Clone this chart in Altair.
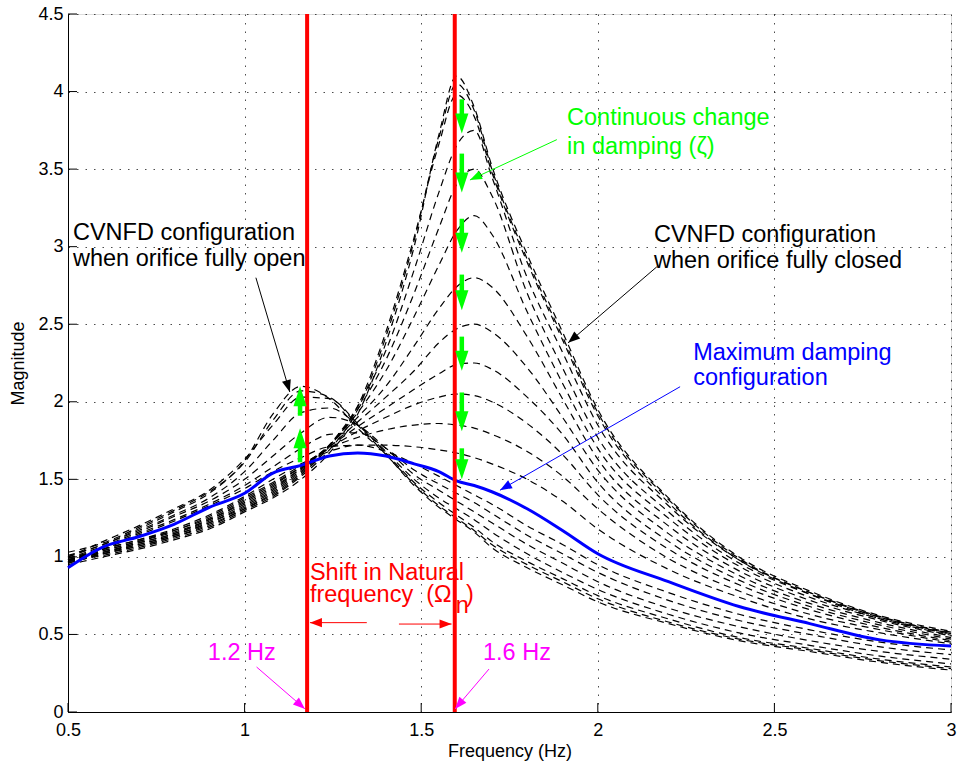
import math
import altair as alt
import pandas as pd

# ---------------- data ----------------
X = [0.5, 0.6, 0.7, 0.8, 0.9, 1.0, 1.08, 1.16, 1.24, 1.32, 1.4, 1.48,
     1.55, 1.6, 1.65, 1.7, 1.8, 1.9, 2.0, 2.2, 2.4, 2.6, 2.8, 3.0]

# orifice fully closed bundle
C_a = [0.95, 1.0, 1.05, 1.11, 1.18, 1.29, 1.38, 1.50, 1.67, 1.92, 2.38, 3.0, 3.72, 4.1, 3.9, 3.52, 2.95, 2.45, 1.95, 1.38, 1.0, 0.78, 0.62, 0.52]
C_b = [0.97, 1.01, 1.06, 1.12, 1.19, 1.30, 1.39, 1.52, 1.69, 1.95, 2.42, 3.04, 3.7, 4.05, 3.88, 3.5, 2.92, 2.42, 1.93, 1.37, 0.99, 0.77, 0.61, 0.515]
C_c = [0.96, 1.02, 1.07, 1.13, 1.2, 1.31, 1.40, 1.53, 1.71, 1.97, 2.45, 3.06, 3.66, 3.98, 3.84, 3.48, 2.9, 2.4, 1.91, 1.35, 0.98, 0.76, 0.6, 0.51]
# intermediate (closing side)
I1 = [0.97, 1.02, 1.07, 1.13, 1.21, 1.31, 1.41, 1.54, 1.72, 1.97, 2.33, 2.85, 3.35, 3.65, 3.75, 3.45, 2.8, 2.32, 1.85, 1.33, 0.98, 0.77, 0.615, 0.505]
I2 = [0.96, 1.02, 1.08, 1.14, 1.22, 1.32, 1.42, 1.55, 1.72, 1.95, 2.27, 2.7, 3.12, 3.4, 3.5, 3.33, 2.7, 2.22, 1.77, 1.29, 0.96, 0.76, 0.61, 0.5]
I3 = [0.97, 1.03, 1.08, 1.14, 1.22, 1.33, 1.43, 1.56, 1.72, 1.93, 2.2, 2.55, 2.88, 3.1, 3.2, 3.08, 2.58, 2.12, 1.7, 1.25, 0.94, 0.74, 0.6, 0.495]
I4 = [0.97, 1.03, 1.09, 1.15, 1.23, 1.34, 1.44, 1.57, 1.72, 1.9, 2.1, 2.36, 2.6, 2.74, 2.8, 2.74, 2.42, 2.02, 1.63, 1.2, 0.91, 0.72, 0.59, 0.49]
I5 = [0.98, 1.03, 1.09, 1.15, 1.24, 1.35, 1.45, 1.57, 1.71, 1.87, 2.03, 2.2, 2.38, 2.47, 2.5, 2.45, 2.22, 1.9, 1.56, 1.15, 0.88, 0.7, 0.575, 0.48]
I6 = [0.98, 1.04, 1.1, 1.16, 1.24, 1.36, 1.46, 1.58, 1.71, 1.84, 1.96, 2.08, 2.18, 2.24, 2.25, 2.21, 2.03, 1.79, 1.48, 1.1, 0.85, 0.68, 0.56, 0.47]
I7 = [0.98, 1.04, 1.1, 1.17, 1.25, 1.37, 1.47, 1.58, 1.7, 1.81, 1.9, 1.98, 2.03, 2.05, 2.04, 2.0, 1.86, 1.66, 1.4, 1.05, 0.82, 0.66, 0.545, 0.46]
I8 = [0.98, 1.05, 1.11, 1.17, 1.26, 1.38, 1.48, 1.59, 1.7, 1.77, 1.82, 1.85, 1.86, 1.85, 1.83, 1.79, 1.68, 1.52, 1.31, 0.99, 0.78, 0.63, 0.53, 0.45]
I9 = [0.99, 1.05, 1.11, 1.18, 1.27, 1.39, 1.5, 1.6, 1.68, 1.72, 1.72, 1.71, 1.69, 1.67, 1.64, 1.6, 1.5, 1.36, 1.18, 0.92, 0.74, 0.6, 0.51, 0.44]
# orifice fully open bundle
O_a = [1.01, 1.08, 1.18, 1.29, 1.41, 1.62, 1.92, 2.1, 2.02, 1.83, 1.66, 1.46, 1.32, 1.24, 1.16, 1.06, 0.93, 0.82, 0.71, 0.57, 0.46, 0.39, 0.32, 0.27]
O_b = [1.03, 1.09, 1.19, 1.3, 1.42, 1.61, 1.88, 2.07, 2.03, 1.85, 1.66, 1.47, 1.33, 1.25, 1.17, 1.08, 0.95, 0.84, 0.73, 0.58, 0.47, 0.4, 0.33, 0.28]
O_c = [1.0, 1.1, 1.2, 1.31, 1.43, 1.63, 1.85, 2.03, 2.02, 1.86, 1.67, 1.48, 1.35, 1.27, 1.19, 1.1, 0.97, 0.86, 0.75, 0.6, 0.48, 0.41, 0.34, 0.29]
# intermediate (opening side)
O1 = [1.0, 1.08, 1.17, 1.27, 1.38, 1.55, 1.75, 1.93, 1.96, 1.85, 1.68, 1.5, 1.38, 1.31, 1.24, 1.16, 1.02, 0.9, 0.79, 0.63, 0.51, 0.43, 0.36, 0.31]
O2 = [0.99, 1.07, 1.16, 1.26, 1.36, 1.5, 1.65, 1.8, 1.9, 1.85, 1.7, 1.53, 1.43, 1.36, 1.29, 1.22, 1.08, 0.96, 0.84, 0.67, 0.55, 0.46, 0.39, 0.34]
O3 = [0.98, 1.06, 1.15, 1.24, 1.34, 1.46, 1.58, 1.7, 1.79, 1.8, 1.7, 1.56, 1.47, 1.41, 1.35, 1.28, 1.14, 1.02, 0.9, 0.72, 0.59, 0.5, 0.42, 0.37]
O4 = [0.97, 1.05, 1.14, 1.23, 1.33, 1.44, 1.55, 1.64, 1.71, 1.72, 1.68, 1.6, 1.52, 1.46, 1.4, 1.34, 1.2, 1.08, 0.95, 0.77, 0.63, 0.53, 0.45, 0.4]

# maximum damping configuration (solid blue)
BLUE = [0.93, 1.065, 1.13, 1.21, 1.32, 1.41, 1.54, 1.59, 1.65, 1.67, 1.65, 1.6, 1.55, 1.49, 1.46, 1.42, 1.31, 1.17, 1.02, 0.84, 0.68, 0.57, 0.465, 0.425]

DASHED = {"C_a": C_a, "C_b": C_b, "C_c": C_c, "I1": I1, "I2": I2, "I3": I3,
          "I4": I4, "I5": I5, "I6": I6, "I7": I7, "I8": I8, "I9": I9,
          "O_a": O_a, "O_b": O_b, "O_c": O_c, "O1": O1, "O2": O2, "O3": O3, "O4": O4}

NAT_FREQ = [1.177, 1.595]          # red vertical lines

XTICKS = [0.5, 1.0, 1.5, 2.0, 2.5, 3.0]
YTICKS = [0, 0.5, 1, 1.5, 2, 2.5, 3, 3.5, 4, 4.5]

# green damping arrows: x, from, to
G_X = [1.615, 1.615, 1.615, 1.615, 1.615, 1.615, 1.615, 1.157, 1.157]
G_FROM = [3.95, 3.60, 3.18, 2.82, 2.42, 2.06, 1.70, 1.61, 1.91]
G_TO = [3.73, 3.35, 2.96, 2.59, 2.20, 1.81, 1.50, 1.83, 2.10]

# thin annotation arrows: start -> tip
A_X1 = [1.032, 2.167, 1.884, 2.233, 1.034, 1.692, 1.346, 1.437]
A_Y1 = [2.80, 2.87, 3.69, 2.097, 0.29, 0.277, 0.576, 0.567]
A_X2 = [1.128, 1.916, 1.638, 1.723, 1.171, 1.596, 1.185, 1.586]
A_Y2 = [2.063, 2.38, 3.43, 1.43, 0.02, 0.02, 0.576, 0.567]
A_COL = ["#000000", "#000000", "#00ff00", "#0000ff", "#ff00ff", "#ff00ff", "#ff0000", "#ff0000"]

# annotation texts
T_TEXT = ["CVNFD configuration", "when orifice fully open",
          "CVNFD configuration", "when orifice fully closed",
          "Continuous change", "in damping (ζ)",
          "Maximum damping", "configuration",
          "Shift in Natural", "frequency \u00a0(Ω", "n", ")",
          "1.2 Hz", "1.6 Hz"]
T_X = [0.514, 0.514, 2.159, 2.159, 1.913, 1.913, 2.270, 2.270,
       1.185, 1.185, 1.598, 1.627, 0.896, 1.675]
T_Y = [3.043, 2.876, 3.030, 2.863, 3.785, 3.598, 2.270, 2.108,
       0.851, 0.709, 0.638, 0.709, 0.335, 0.335]
T_COL = ["#000000"] * 4 + ["#00ff00"] * 2 + ["#0000ff"] * 2 + ["#ff0000"] * 4 + ["#ff00ff"] * 2

# ---------------- build tables ----------------
W, H = 883, 698
PX_X = W / 2.5
PX_Y = H / 4.5

rows = []
for name, vals in DASHED.items():
    for xv, yv in zip(X, vals):
        rows.append({"x": xv, "y": yv, "curve": name})
dashed_df = pd.DataFrame(rows)
blue_df = pd.DataFrame({"x": X, "y": BLUE})
red_df = pd.DataFrame({"x": NAT_FREQ})

def angle_of(x1, y1, x2, y2):
    dx = (x2 - x1) * PX_X
    dy = -(y2 - y1) * PX_Y
    return math.degrees(math.atan2(dx, -dy)) % 360

g_rows = []
for gx, gf, gt in zip(G_X, G_FROM, G_TO):
    sgn = 1 if gt > gf else -1
    g_rows.append({"x": gx, "y": gf, "y2": gt - sgn * 10 / PX_Y,
                   "tip": gt, "angle": 0 if sgn > 0 else 180})
green_df = pd.DataFrame(g_rows)

a_rows = []
for x1, y1, x2, y2, c in zip(A_X1, A_Y1, A_X2, A_Y2, A_COL):
    a_rows.append({"x": x1, "y": y1, "x2": x2, "y2": y2, "c": c,
                   "angle": angle_of(x1, y1, x2, y2)})
arr_df = pd.DataFrame(a_rows)

text_df = pd.DataFrame({"x": T_X, "y": T_Y, "t": T_TEXT, "c": T_COL})
xt_df = pd.DataFrame({"x": XTICKS})
yt_df = pd.DataFrame({"y": YTICKS})

# ---------------- chart ----------------
FONT = "Liberation Sans"
xs = alt.Scale(domain=[0.5, 3], nice=False, zero=False)
ys = alt.Scale(domain=[0, 4.5], nice=False, zero=False)

axis_common = dict(grid=True, gridDash=[1.5, 7], gridColor="#000000", gridOpacity=0.7,
                   gridWidth=1, ticks=False, domainColor="#000000", domainWidth=1,
                   labelFontSize=18, titleFontSize=18, labelColor="#000000",
                   titleColor="#000000", titleFontWeight="normal", labelFont=FONT,
                   titleFont=FONT, format="~g", labelFlush=False, labelOverlap=False)
xaxis = alt.Axis(values=XTICKS, title="Frequency (Hz)", labelPadding=9, titlePadding=3, **axis_common)
yaxis = alt.Axis(values=YTICKS, title="Magnitude", labelPadding=5, titlePadding=10, **axis_common)

def X_(field="x"):
    return alt.X(f"{field}:Q", scale=xs, axis=xaxis)

def Y_(field="y"):
    return alt.Y(f"{field}:Q", scale=ys, axis=yaxis)

dashed = alt.Chart(dashed_df).mark_line(
    color="#000000", strokeWidth=1.2, strokeDash=[7, 5], interpolate="monotone"
).encode(x=X_(), y=Y_(), detail="curve:N")

blue = alt.Chart(blue_df).mark_line(color="#0000ff", strokeWidth=3, interpolate="monotone").encode(
    x=X_(), y=Y_())

red = alt.Chart(red_df).mark_rule(color="#ff0000", strokeWidth=4).encode(x=X_())

g_shaft = alt.Chart(green_df).mark_rule(color="#00ff00", strokeWidth=4.5).encode(
    x=X_(), y=Y_(), y2="y2:Q")
g_head = alt.Chart(green_df).mark_point(
    shape="M0,0L-0.33,1L0.33,1Z", filled=True, size=1600, opacity=1, color="#00ff00", strokeWidth=0
).encode(x=X_(), y=alt.Y("tip:Q", scale=ys, axis=yaxis), angle=alt.Angle("angle:Q", scale=None))

a_shaft = alt.Chart(arr_df).mark_rule(strokeWidth=1).encode(
    x=X_(), y=Y_(), x2="x2:Q", y2="y2:Q", color=alt.Color("c:N", scale=None))
a_head = alt.Chart(arr_df).mark_point(
    shape="M0,0L-0.38,1L0.38,1Z", filled=True, size=576, opacity=1, strokeWidth=0
).encode(x=alt.X("x2:Q", scale=xs, axis=xaxis), y=alt.Y("y2:Q", scale=ys, axis=yaxis),
         angle=alt.Angle("angle:Q", scale=None), color=alt.Color("c:N", scale=None))

texts = alt.Chart(text_df).mark_text(
    align="left", baseline="alphabetic", fontSize=23.5, font=FONT
).encode(x=X_(), y=Y_(), text="t:N", color=alt.Color("c:N", scale=None))

xticks = alt.Chart(xt_df).mark_rule(color="#000000", strokeWidth=1).encode(
    x=X_(), y=alt.value(H), y2=alt.value(H - 9))
yticks = alt.Chart(yt_df).mark_rule(color="#000000", strokeWidth=1).encode(
    y=Y_(), x=alt.value(0), x2=alt.value(9))

chart = alt.layer(
    dashed, blue, red, g_shaft, g_head, a_shaft, a_head, texts, xticks, yticks
).properties(
    width=W, height=H, autosize=alt.AutoSizeParams(type="none"),
    padding={"left": 68, "top": 14, "right": 10, "bottom": 55},
    background="white"
).configure_view(stroke="transparent").configure(font=FONT)

chart.save("out.html", embed_options={"renderer": "svg", "actions": False})
